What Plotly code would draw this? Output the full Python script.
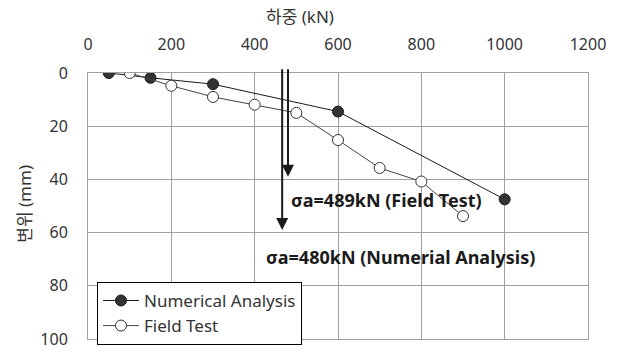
import plotly.graph_objects as go

# Data
num_load = [50, 150, 300, 600, 1000]
num_disp = [0, 1.8, 4.2, 14.5, 47.5]

field_load = [100, 200, 300, 400, 500, 600, 700, 800, 900]
field_disp = [0, 4.8, 9.0, 11.9, 15.0, 25.2, 35.7, 40.8, 53.8]

x_ticks = [0, 200, 400, 600, 800, 1000, 1200]
y_ticks = [0, 20, 40, 60, 80, 100]

# allowable-load arrows: (x position, arrow tip displacement)
arrow_x = [466, 480]
arrow_tip = [59, 39]
arrow_start = -2

labels = ["σa=480kN (Numerial Analysis)", "σa=489kN (Field Test)"]
label_x = [751, 716]
label_y = [69, 47.6]

FONT = "Noto Sans, Noto Sans CJK KR, sans-serif"

fig = go.Figure()
fig.add_trace(go.Scatter(
    x=num_load, y=num_disp, mode="lines+markers", name="Numerical Analysis",
    line=dict(color="#1a1a1a", width=1),
    marker=dict(symbol="circle", size=11, color="#333333", line=dict(color="#1a1a1a", width=1)),
))
fig.add_trace(go.Scatter(
    x=field_load, y=field_disp, mode="lines+markers", name="Field Test",
    line=dict(color="#444444", width=1),
    marker=dict(symbol="circle", size=11, color="white", line=dict(color="#333333", width=1)),
))

for ax_, tip in zip(arrow_x, arrow_tip):
    fig.add_annotation(
        x=ax_, y=tip, ax=ax_, ay=arrow_start, xref="x", yref="y", axref="x", ayref="y",
        showarrow=True, arrowhead=2, arrowsize=1.2, arrowwidth=2, arrowcolor="#1a1a1a", text="",
    )
for t, lx, ly in zip(labels, label_x, label_y):
    fig.add_annotation(
        x=lx, y=ly, xref="x", yref="y", text="<b>" + t + "</b>", showarrow=False,
        font=dict(family=FONT, size=18, color="#1a1a1a"),
    )
fig.add_annotation(
    x=(300 - 88) / 501, y=1 + (73 - 15) / 275, xref="paper", yref="paper", text="하중 (kN)",
    showarrow=False, xanchor="center", yanchor="middle",
    font=dict(family=FONT, size=17, color="#333333"),
)
fig.add_annotation(
    x=-(88 - 24) / 501, y=(348 - 208) / 275, xref="paper", yref="paper", text="변위 (mm)",
    showarrow=False, textangle=-90, xanchor="center", yanchor="middle",
    font=dict(family=FONT, size=17, color="#333333"),
)

fig.update_layout(
    width=618, height=362,
    margin=dict(l=88, r=29, t=73, b=14),
    paper_bgcolor="white", plot_bgcolor="white",
    font=dict(family=FONT, size=16, color="#333333"),
    showlegend=True,
    legend=dict(
        x=(97 - 88) / 501, y=(348 - 289) / 275, xanchor="left", yanchor="top",
        bordercolor="#000000", borderwidth=1, bgcolor="white",
        font=dict(family=FONT, size=17, color="#333333"),
        tracegroupgap=0, itemwidth=36,
    ),
    xaxis=dict(
        range=[0, 1200], tickvals=x_ticks, side="top",
        showgrid=True, gridcolor="#a0a0a0", gridwidth=1,
        showline=True, linecolor="#a0a0a0", linewidth=1, mirror=True,
        zeroline=False, ticks="", ticklabelstandoff=16,
        tickfont=dict(family=FONT, size=16, color="#333333"),
    ),
    yaxis=dict(
        range=[100, 0], tickvals=y_ticks,
        showgrid=True, gridcolor="#a0a0a0", gridwidth=1,
        showline=True, linecolor="#a0a0a0", linewidth=1, mirror=True,
        zeroline=False, ticks="", ticklabelstandoff=16,
        tickfont=dict(family=FONT, size=16, color="#333333"),
    ),
)

fig.write_html("out.html")
